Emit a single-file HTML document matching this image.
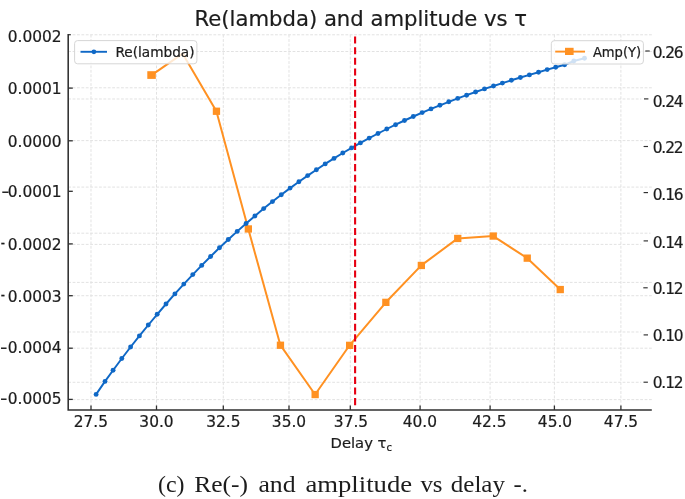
<!DOCTYPE html>
<html lang="en"><head><meta charset="utf-8"><title>Re(lambda) and amplitude vs tau</title>
<style>html,body{margin:0;padding:0;background:#fff}svg{display:block;will-change:transform}text{font-family:"DejaVu Sans","Liberation Sans",sans-serif;fill:#1c1c1c;stroke:#1c1c1c;stroke-width:.22px}.cap{font-family:"Liberation Serif","DejaVu Serif",serif;stroke:none}</style></head><body>
<svg width="685" height="499" viewBox="0 0 685 499">
<rect width="685" height="499" fill="#fff"/>
<g fill="none" stroke="#e0e0e0" stroke-width="0.95" stroke-dasharray="2.8 1.6"><path d="M91.0 34.7V409.9"/><path d="M156.5 34.7V409.9"/><path d="M223.3 34.7V409.9"/><path d="M289.0 34.7V409.9"/><path d="M350.3 34.7V409.9"/><path d="M420.1 34.7V409.9"/><path d="M490.1 34.7V409.9"/><path d="M554.4 34.7V409.9"/><path d="M620.9 34.7V409.9"/><path d="M68.2 34.8H651.8"/><path d="M68.2 51.5H651.8"/><path d="M68.2 87.8H651.8"/><path d="M68.2 99.0H641.2"/><path d="M68.2 140.6H651.4"/><path d="M68.2 187.1H651.8"/><path d="M68.2 233.2H650.6"/><path d="M68.2 244.4H641.2"/><path d="M68.2 282.4H651.8"/><path d="M68.2 295.7H651.8"/><path d="M68.2 332.0H641.2"/><path d="M68.2 348.2H651.8"/><path d="M68.2 382.3H641.2"/><path d="M68.2 399.6H652.0"/></g>
<path d="M151.6 75.1 L182.6 53.6 L216.4 111.3 L248.3 229.0 L280.4 345.2 L315.1 394.5 L349.6 345.3 L385.9 302.3 L421.3 265.4 L457.7 238.4 L493.2 236.1 L527.3 258.2 L560.3 289.5" fill="none" stroke="#ff9122" stroke-width="2" stroke-linejoin="round"/>
<g fill="#ff9122"><rect x="147.3" y="71.2" width="8.5" height="7.7"/><rect x="212.8" y="107.6" width="7.3" height="7.3"/><rect x="244.7" y="225.3" width="7.3" height="7.3"/><rect x="276.8" y="341.6" width="7.3" height="7.3"/><rect x="311.5" y="390.9" width="7.3" height="7.3"/><rect x="346.0" y="341.7" width="7.3" height="7.3"/><rect x="382.2" y="298.7" width="7.3" height="7.3"/><rect x="417.7" y="261.8" width="7.3" height="7.3"/><rect x="454.1" y="234.8" width="7.3" height="7.3"/><rect x="489.6" y="232.4" width="7.3" height="7.3"/><rect x="523.6" y="254.5" width="7.3" height="7.3"/><rect x="556.6" y="285.9" width="7.3" height="7.3"/></g>
<path d="M96.1 394.4 L105.0 381.4 L113.1 370.2 L121.8 358.5 L130.6 347.0 L139.4 335.9 L148.3 325.0 L157.2 314.3 L166.0 304.0 L174.9 293.9 L183.8 284.1 L192.8 274.6 L201.7 265.4 L210.6 256.5 L219.5 247.8 L228.3 239.5 L237.2 231.4 L246.1 223.5 L254.9 216.0 L263.7 208.6 L272.5 201.6 L281.3 194.7 L290.1 188.1 L298.9 181.8 L307.7 175.6 L316.4 169.7 L325.2 163.9 L334.0 158.4 L342.8 153.0 L351.6 147.9 L360.4 142.9 L369.2 138.1 L378.0 133.5 L386.8 129.0 L395.6 124.7 L404.5 120.5 L413.3 116.5 L422.2 112.6 L431.0 108.9 L439.9 105.3 L448.8 101.8 L457.7 98.4 L466.6 95.2 L475.6 92.0 L484.5 88.9 L493.5 86.0 L502.4 83.1 L511.4 80.3 L520.4 77.5 L529.4 74.9 L538.5 72.2 L547.2 69.6 L555.7 67.3 L564.6 64.8 L573.8 61.0 L584.5 58.2" fill="none" stroke="#0f68c6" stroke-width="1.95" stroke-linejoin="round" stroke-linecap="round"/>
<g fill="#0f68c6"><circle cx="96.1" cy="394.4" r="2.45"/><circle cx="105.0" cy="381.4" r="2.45"/><circle cx="113.1" cy="370.2" r="2.45"/><circle cx="121.8" cy="358.5" r="2.45"/><circle cx="130.6" cy="347.0" r="2.45"/><circle cx="139.4" cy="335.9" r="2.45"/><circle cx="148.3" cy="325.0" r="2.45"/><circle cx="157.2" cy="314.3" r="2.45"/><circle cx="166.0" cy="304.0" r="2.45"/><circle cx="174.9" cy="293.9" r="2.45"/><circle cx="183.8" cy="284.1" r="2.45"/><circle cx="192.8" cy="274.6" r="2.45"/><circle cx="201.7" cy="265.4" r="2.45"/><circle cx="210.6" cy="256.5" r="2.45"/><circle cx="219.5" cy="247.8" r="2.45"/><circle cx="228.3" cy="239.5" r="2.45"/><circle cx="237.2" cy="231.4" r="2.45"/><circle cx="246.1" cy="223.5" r="2.45"/><circle cx="254.9" cy="216.0" r="2.45"/><circle cx="263.7" cy="208.6" r="2.45"/><circle cx="272.5" cy="201.6" r="2.45"/><circle cx="281.3" cy="194.7" r="2.45"/><circle cx="290.1" cy="188.1" r="2.45"/><circle cx="298.9" cy="181.8" r="2.45"/><circle cx="307.7" cy="175.6" r="2.45"/><circle cx="316.4" cy="169.7" r="2.45"/><circle cx="325.2" cy="163.9" r="2.45"/><circle cx="334.0" cy="158.4" r="2.45"/><circle cx="342.8" cy="153.0" r="2.45"/><circle cx="351.6" cy="147.9" r="2.45"/><circle cx="360.4" cy="142.9" r="2.45"/><circle cx="369.2" cy="138.1" r="2.45"/><circle cx="378.0" cy="133.5" r="2.45"/><circle cx="386.8" cy="129.0" r="2.45"/><circle cx="395.6" cy="124.7" r="2.45"/><circle cx="404.5" cy="120.5" r="2.45"/><circle cx="413.3" cy="116.5" r="2.45"/><circle cx="422.2" cy="112.6" r="2.45"/><circle cx="431.0" cy="108.9" r="2.45"/><circle cx="439.9" cy="105.3" r="2.45"/><circle cx="448.8" cy="101.8" r="2.45"/><circle cx="457.7" cy="98.4" r="2.45"/><circle cx="466.6" cy="95.2" r="2.45"/><circle cx="475.6" cy="92.0" r="2.45"/><circle cx="484.5" cy="88.9" r="2.45"/><circle cx="493.5" cy="86.0" r="2.45"/><circle cx="502.4" cy="83.1" r="2.45"/><circle cx="511.4" cy="80.3" r="2.45"/><circle cx="520.4" cy="77.5" r="2.45"/><circle cx="529.4" cy="74.9" r="2.45"/><circle cx="538.5" cy="72.2" r="2.45"/><circle cx="547.2" cy="69.6" r="2.45"/><circle cx="555.7" cy="67.3" r="2.45"/><circle cx="564.6" cy="64.8" r="2.45"/><circle cx="573.8" cy="61.0" r="2.45"/><circle cx="584.5" cy="58.2" r="2.45"/></g>
<path d="M355.1 36.5V405.8" fill="none" stroke="#e60012" stroke-width="2.1" stroke-dasharray="7.1 3.535"/>
<path d="M68.2 34.1V409.9H651.8" fill="none" stroke="#303030" stroke-width="1.55"/>
<path d="M68.2 34.7h2.6" fill="none" stroke="#303030" stroke-width="1.2"/>
<g fill="none" stroke="#303030" stroke-width="1.3">
<path d="M68.2 88.1h4.6"/>
<path d="M68.2 140.8h4.6"/>
<path d="M68.2 191.3h4.6"/>
<path d="M68.2 243.9h4.6"/>
<path d="M68.2 295.7h4.6"/>
<path d="M68.2 348.2h4.6"/>
<path d="M68.2 399.4h4.6"/>
<path d="M91.0 409.9v-4.4"/>
<path d="M156.5 409.9v-4.4"/>
<path d="M223.3 409.9v-4.4"/>
<path d="M289.0 409.9v-4.4"/>
<path d="M350.3 409.9v-4.4"/>
<path d="M420.1 409.9v-4.4"/>
<path d="M490.1 409.9v-4.4"/>
<path d="M554.4 409.9v-4.4"/>
<path d="M620.9 409.9v-4.4"/>
</g>
<g fill="none" stroke="#303030" stroke-width="1.15">
<path d="M645.3 51.0h4.4"/>
<path d="M644.0 98.9h4.4"/>
<path d="M643.6 146.5h4.4"/>
<path d="M643.6 192.6h4.4"/>
<path d="M643.6 240.9h4.4"/>
<path d="M643.3 287.8h4.4"/>
<path d="M643.6 334.9h4.4"/>
<path d="M643.5 382.2h4.4"/>
</g>
<text x="61.6" y="42.3" font-size="15.40" text-anchor="end">0.0002</text>
<text x="61.6" y="94.3" font-size="15.40" text-anchor="end">0.0001</text>
<text x="61.6" y="146.7" font-size="15.40" text-anchor="end">0.0000</text>
<text x="61.6" y="197.0" font-size="15.40" text-anchor="end">0.0001</text>
<text x="1.6" y="197.3" font-size="15.40" textLength="8.0" lengthAdjust="spacingAndGlyphs">−</text>
<text x="61.6" y="249.8" font-size="15.40" text-anchor="end">0.0002</text>
<text x="0.7" y="248.4" font-size="15.40" textLength="4.3" lengthAdjust="spacingAndGlyphs">-</text>
<text x="61.6" y="301.6" font-size="15.40" text-anchor="end">0.0003</text>
<text x="0.7" y="300.3" font-size="15.40" textLength="4.3" lengthAdjust="spacingAndGlyphs">-</text>
<text x="61.6" y="353.4" font-size="15.40" text-anchor="end">0.0004</text>
<text x="0.3" y="353.3" font-size="15.40" textLength="7.2" lengthAdjust="spacingAndGlyphs">−</text>
<text x="61.6" y="404.4" font-size="15.40" text-anchor="end">0.0005</text>
<text x="0.3" y="404.3" font-size="15.40" textLength="7.2" lengthAdjust="spacingAndGlyphs">−</text>
<text x="652.7" y="58.0" font-size="15.40" textLength="30.9" lengthAdjust="spacing">0.26</text>
<text x="652.7" y="106.5" font-size="15.40" textLength="30.9" lengthAdjust="spacing">0.24</text>
<text x="652.7" y="153.4" font-size="15.40" textLength="30.9" lengthAdjust="spacing">0.22</text>
<text x="652.7" y="199.7" font-size="15.40" textLength="30.9" lengthAdjust="spacing">0.16</text>
<text x="652.7" y="247.5" font-size="15.40" textLength="30.9" lengthAdjust="spacing">0.14</text>
<text x="652.7" y="293.8" font-size="15.40" textLength="30.9" lengthAdjust="spacing">0.12</text>
<text x="652.7" y="341.2" font-size="15.40" textLength="30.9" lengthAdjust="spacing">0.10</text>
<text x="652.7" y="388.1" font-size="15.40" textLength="30.9" lengthAdjust="spacing">0.12</text>
<text x="90.8" y="427.0" font-size="15.40" text-anchor="middle">27.5</text>
<text x="156.5" y="427.0" font-size="15.40" text-anchor="middle">30.0</text>
<text x="223.3" y="427.0" font-size="15.40" text-anchor="middle">32.5</text>
<text x="289.0" y="427.0" font-size="15.40" text-anchor="middle">35.0</text>
<text x="351.0" y="427.0" font-size="15.40" text-anchor="middle">37.5</text>
<text x="419.8" y="427.0" font-size="15.40" text-anchor="middle">40.0</text>
<text x="489.4" y="427.0" font-size="15.40" text-anchor="middle">42.5</text>
<text x="555.0" y="427.0" font-size="15.40" text-anchor="middle">45.0</text>
<text x="621.0" y="427.0" font-size="15.40" text-anchor="middle">47.5</text>
<text x="330.6" y="448.3" font-size="14.75">Delay τ<tspan font-size="10" dy="2.2">c</tspan></text>
<text x="194.6" y="25.5" font-size="21.20" textLength="332.5" lengthAdjust="spacingAndGlyphs">Re(lambda) and amplitude vs τ</text>
<rect x="74.6" y="40.6" width="122.3" height="23.2" rx="3" ry="3" fill="#fff" fill-opacity="0.8" stroke="#d6d6d6" stroke-width="1"/>
<path d="M80.5 51.8H107" stroke="#0f68c6" stroke-width="1.9" fill="none"/><circle cx="93.9" cy="51.8" r="2.4" fill="#0f68c6"/>
<text x="115.4" y="57.3" font-size="13.30" textLength="79.2" lengthAdjust="spacingAndGlyphs">Re(lambda)</text>
<rect x="551.3" y="40.7" width="92.1" height="23.3" rx="3" ry="3" fill="#fff" fill-opacity="0.8" stroke="#d6d6d6" stroke-width="1"/>
<path d="M555.2 51.6H585" stroke="#ff9122" stroke-width="1.9" fill="none"/><rect x="565.0" y="47.8" width="8.6" height="7.2" fill="#ff9122"/>
<text x="592.9" y="56.7" font-size="13.30" textLength="48.3" lengthAdjust="spacingAndGlyphs">Amp(Y)</text>
<text class="cap" x="158.0" y="492.4" font-size="23.4" textLength="26.5" lengthAdjust="spacingAndGlyphs" fill="#111">(c)</text>
<text class="cap" x="194.2" y="492.4" font-size="23.4" textLength="53.8" lengthAdjust="spacingAndGlyphs" fill="#111">Re(-)</text>
<text class="cap" x="258.4" y="492.4" font-size="23.4" textLength="37.2" lengthAdjust="spacingAndGlyphs" fill="#111">and</text>
<text class="cap" x="305.4" y="492.4" font-size="23.4" textLength="106.8" lengthAdjust="spacingAndGlyphs" fill="#111">amplitude</text>
<text class="cap" x="420.4" y="492.4" font-size="23.4" textLength="22.2" lengthAdjust="spacingAndGlyphs" fill="#111">vs</text>
<text class="cap" x="450.8" y="492.4" font-size="23.4" textLength="54.2" lengthAdjust="spacingAndGlyphs" fill="#111">delay</text>
<text class="cap" x="513.5" y="492.4" font-size="23.4" textLength="14.4" lengthAdjust="spacingAndGlyphs" fill="#111">-.</text>
</svg></body></html>
